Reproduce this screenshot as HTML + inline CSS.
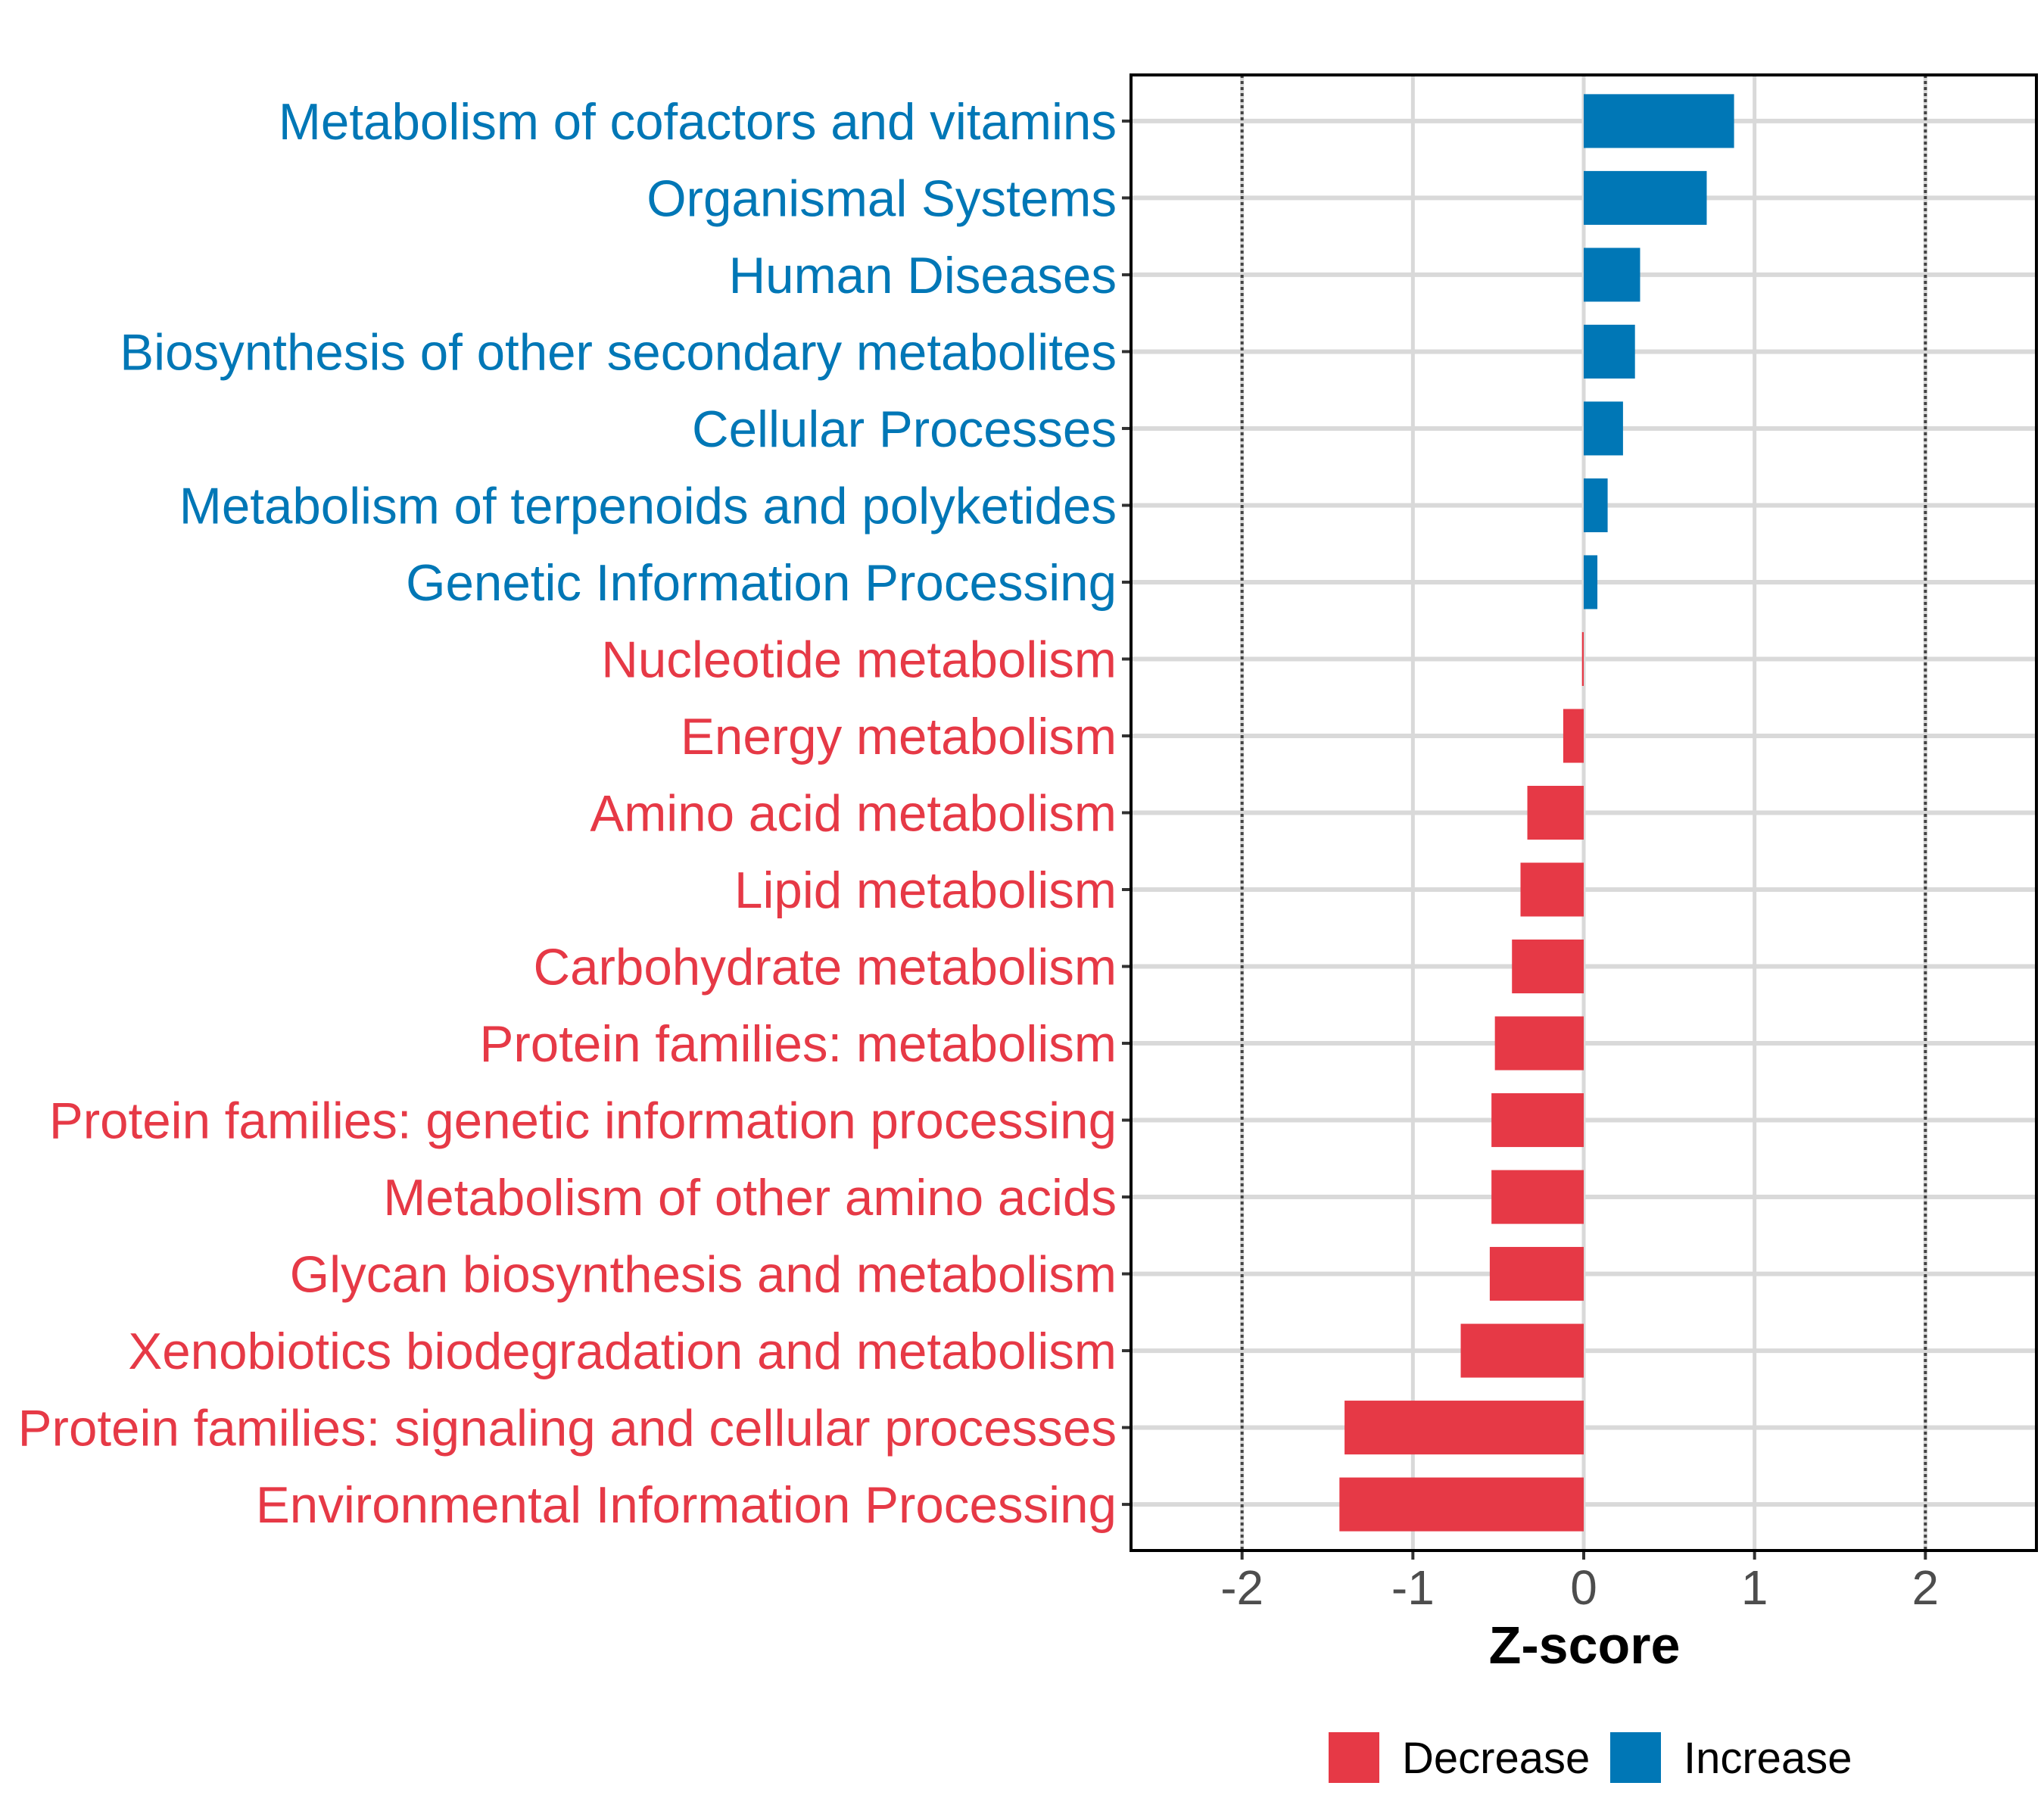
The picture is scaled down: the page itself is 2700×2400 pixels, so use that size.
<!DOCTYPE html>
<html><head><meta charset="utf-8"><style>
html,body{margin:0;padding:0;background:#fff;}
svg{display:block;font-family:"Liberation Sans",sans-serif;}
</style></head><body>
<svg id="chart" width="2700" height="2400" viewBox="0 0 2700 2400" xmlns="http://www.w3.org/2000/svg">
<rect x="0" y="0" width="2700" height="2400" fill="#fff"/>
<g id="grid"></g>
<g id="bars"></g>
<g id="ylabels"></g>
<g id="xaxis"></g>
<rect x="1494" y="99" width="1196" height="1949" fill="none" stroke="#000" stroke-width="4"/>
<text x="2093" y="2197" text-anchor="middle" font-size="70" font-weight="bold" fill="#000">Z-score</text>
<g>
<rect x="1755" y="2288" width="67" height="67" fill="#E63946"/>
<text x="1852" y="2342" font-size="58" fill="#000">Decrease</text>
<rect x="2127" y="2288" width="67" height="67" fill="#0077B6"/>
<text x="2224" y="2342" font-size="58" fill="#000">Increase</text>
</g>
</svg>
<script>
const categories = ["Metabolism of cofactors and vitamins","Organismal Systems","Human Diseases","Biosynthesis of other secondary metabolites","Cellular Processes","Metabolism of terpenoids and polyketides","Genetic Information Processing","Nucleotide metabolism","Energy metabolism","Amino acid metabolism","Lipid metabolism","Carbohydrate metabolism","Protein families: metabolism","Protein families: genetic information processing","Metabolism of other amino acids","Glycan biosynthesis and metabolism","Xenobiotics biodegradation and metabolism","Protein families: signaling and cellular processes","Environmental Information Processing"];
const zscores = [0.88,0.72,0.33,0.30,0.23,0.14,0.08,-0.01,-0.12,-0.33,-0.37,-0.42,-0.52,-0.54,-0.54,-0.55,-0.72,-1.40,-1.43];
const xTicks = [-2,-1,0,1,2];
const xTickLabels = ["-2","-1","0","1","2"];
const thresholds = [-2,2];

const NS="http://www.w3.org/2000/svg";
const L=1494,R=2690,T=99,B=2048,xmin=-2.65,xmax=2.65;
const x=v=>L+(v-xmin)/(xmax-xmin)*(R-L);
const n=categories.length;
const step=(B-T)/(n-1+1.2);
const y=i=>T+step*0.6+i*step;
function mk(tag,attrs,parent){const e=document.createElementNS(NS,tag);for(const k in attrs)e.setAttribute(k,attrs[k]);parent.appendChild(e);return e;}
const grid=document.getElementById('grid'),bars=document.getElementById('bars'),yl=document.getElementById('ylabels'),xa=document.getElementById('xaxis');
xTicks.forEach((t,i)=>{
  const g=mk('line',{x1:x(t),x2:x(t),y1:T,y2:B,stroke:'#d9d9d9','stroke-width':5},grid);
  
  
  const tk=mk('line',{x1:x(t),x2:x(t),y1:B,y2:B+12,stroke:'#333','stroke-width':4},xa);
  
  
  const tl=mk('text',{x:x(t),y:2119,'text-anchor':'middle','font-size':64,fill:'#4d4d4d'},xa);
  tl.textContent=xTickLabels[i];
  
  
});
categories.forEach((c,i)=>{
  const g=mk('line',{x1:L,x2:R,y1:y(i),y2:y(i),stroke:'#d9d9d9','stroke-width':6},grid);
  
  
});
thresholds.forEach(t=>{
  const d=mk('line',{x1:x(t),x2:x(t),y1:T,y2:B,stroke:'#444','stroke-width':4,'stroke-dasharray':'4 4'},grid);
  
  
});
const bh=step*0.7;
categories.forEach((c,i)=>{
  const v=zscores[i];
  const col=v>=0?'#0077B6':'#E63946';
  const x0=Math.min(x(0),x(v)),w=Math.max(Math.abs(x(v)-x(0)),1.5);
  const b=mk('rect',{x:x0,y:y(i)-bh/2,width:w,height:bh,fill:col},bars);
  
  
  const tk=mk('line',{x1:L-12,x2:L,y1:y(i),y2:y(i),stroke:'#333','stroke-width':4},yl);
  
  
  const t=mk('text',{x:1475,y:y(i)+24,'text-anchor':'end','font-size':67.3,fill:col},yl);
  t.textContent=c;
  
  
});
</script>
</body></html>
